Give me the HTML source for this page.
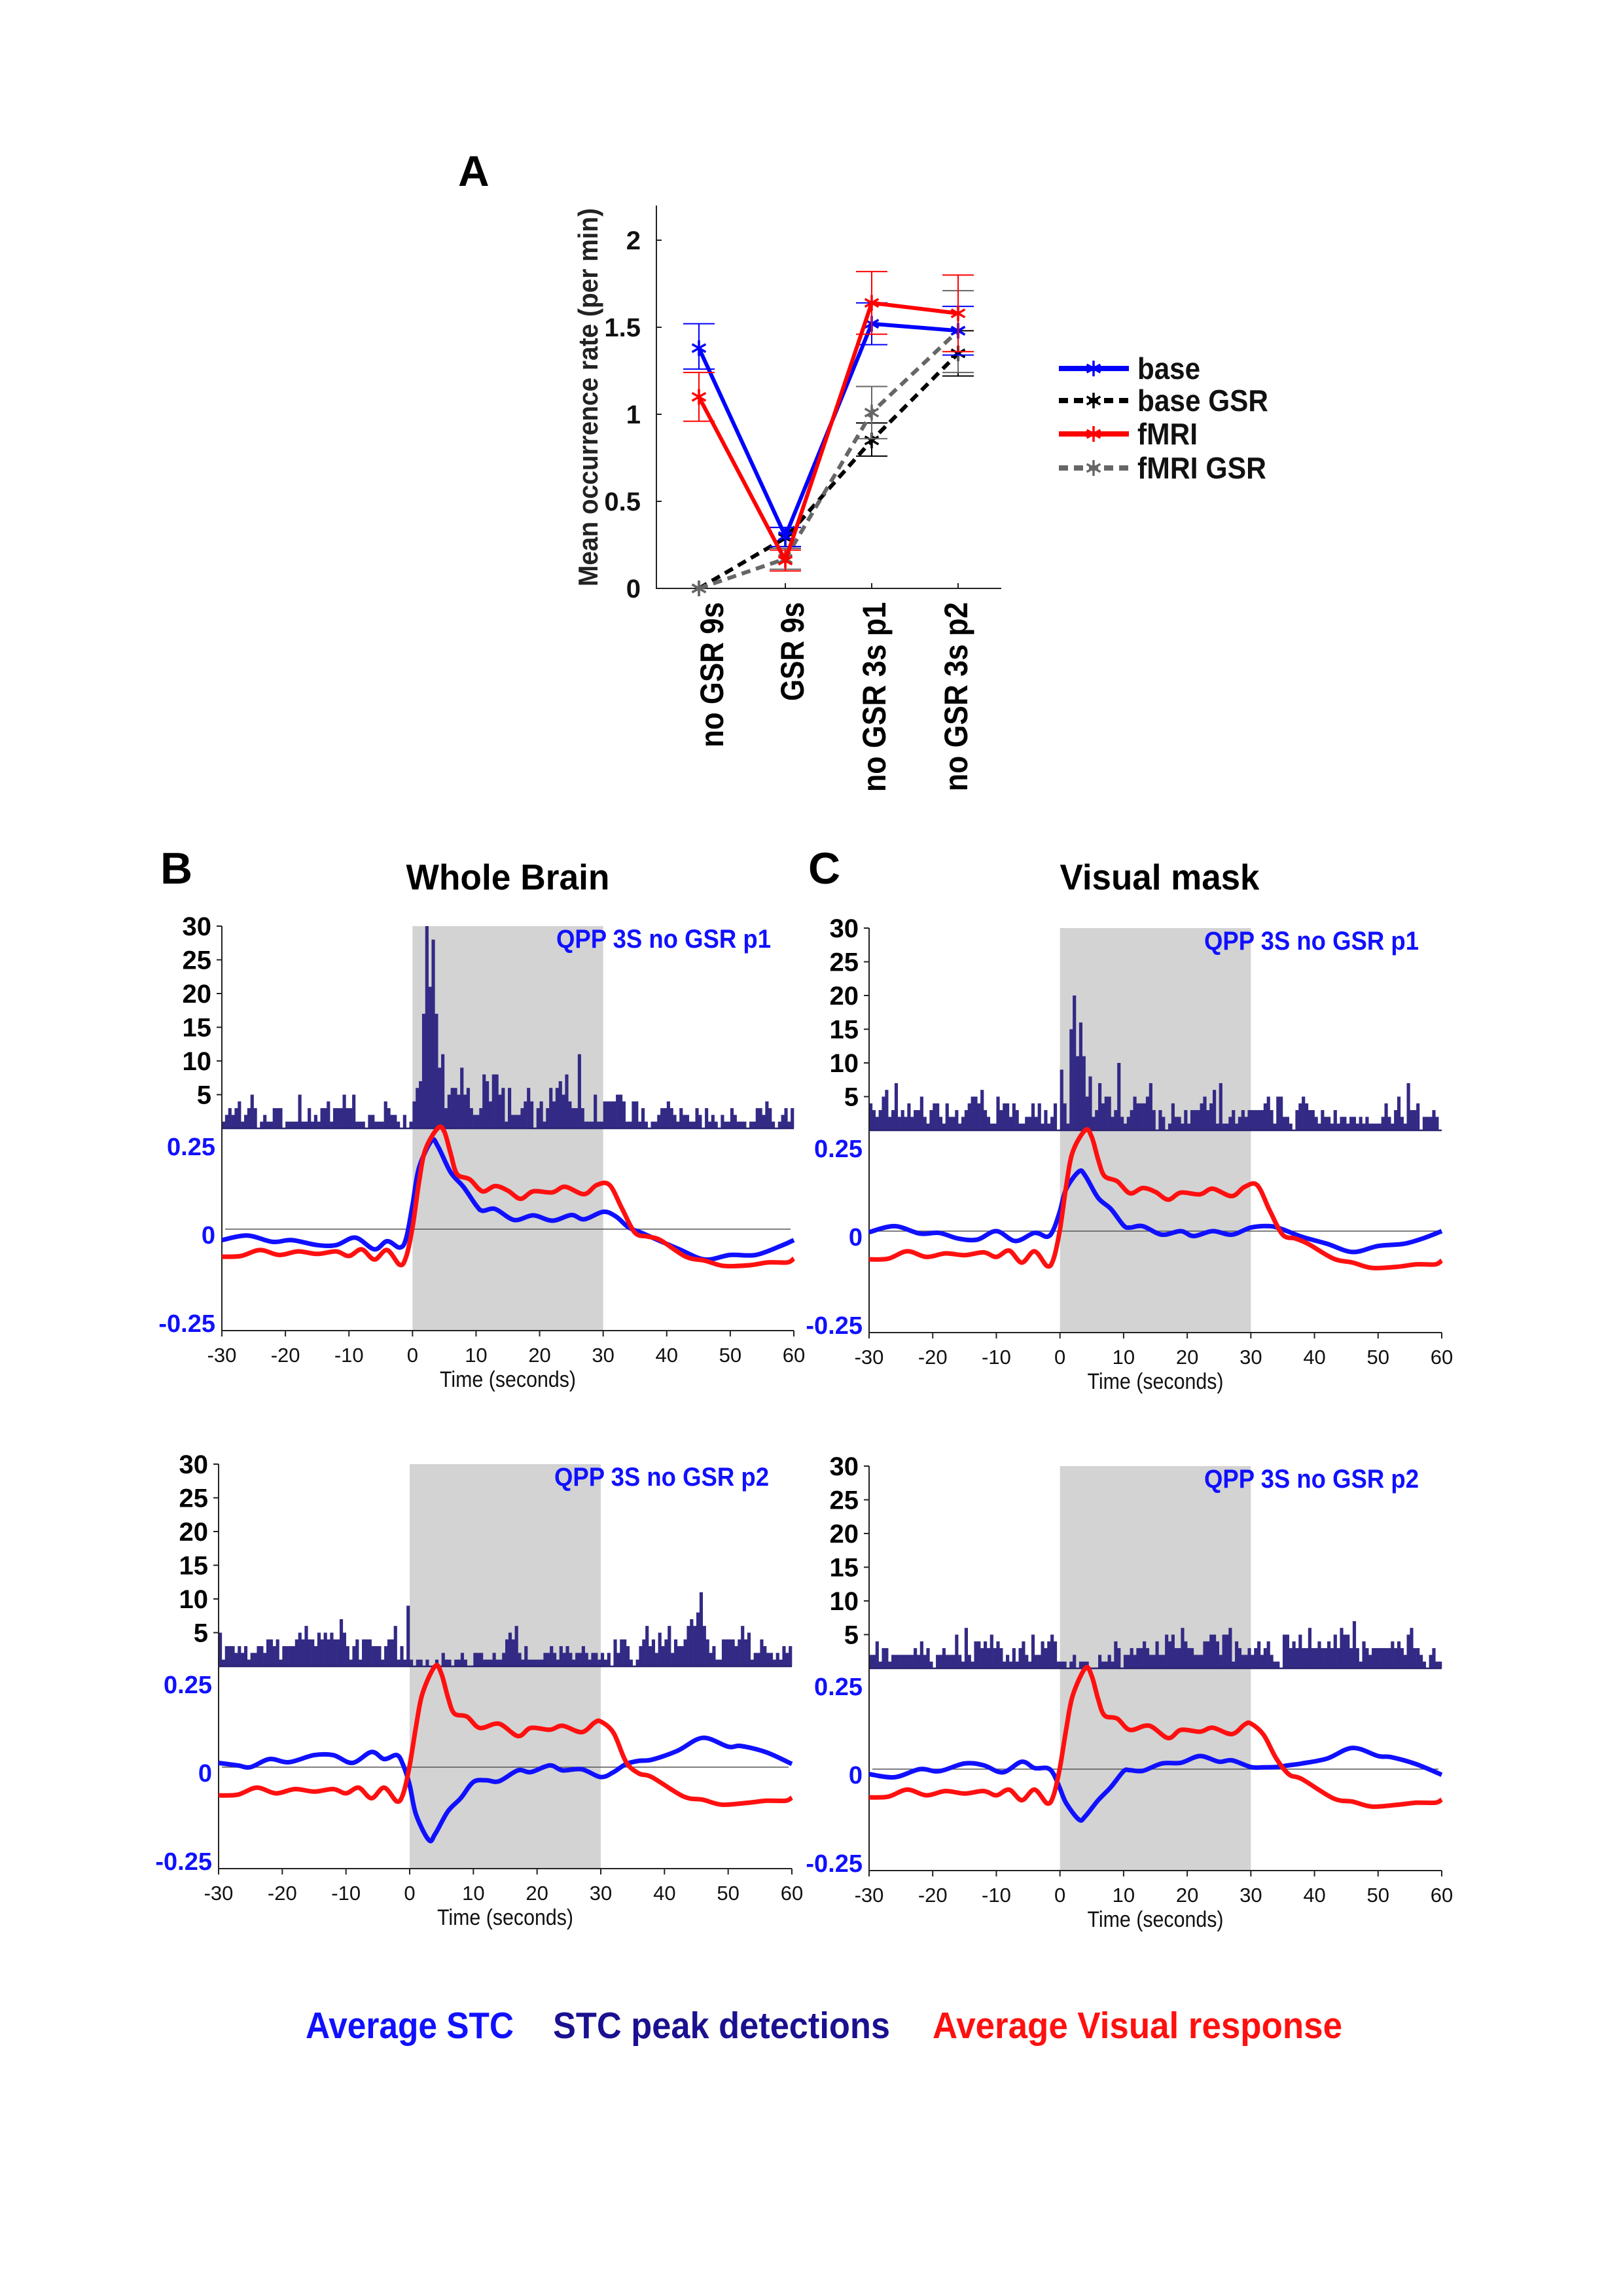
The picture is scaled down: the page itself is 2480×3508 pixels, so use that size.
<!DOCTYPE html>
<html><head><meta charset="utf-8"><title>QPP figure</title>
<style>
html,body{margin:0;padding:0;background:#fff;}
svg{display:block;}
text{font-family:"Liberation Sans Narrow","Liberation Sans",sans-serif;}
</style></head>
<body>
<svg id="fig" xmlns="http://www.w3.org/2000/svg" width="2480" height="3508" viewBox="0 0 2480 3508">
<rect x="0" y="0" width="2480" height="3508" fill="#fff"/>
</svg>
<script>
// ---------- Panel A data ----------
const catLabels = ['no GSR 9s','GSR 9s','no GSR 3s p1','no GSR 3s p2'];
const yTicksA = [0,0.5,1,1.5,2];
const yTickLabelsA = ['0','0.5','1','1.5','2'];
const baseMean = [1.38,0.30,1.52,1.48];
const baseLo = [1.26,0.24,1.40,1.34];
const baseHi = [1.52,0.35,1.64,1.62];
const fmriMean = [1.10,0.16,1.64,1.58];
const fmriLo = [0.96,0.10,1.46,1.36];
const fmriHi = [1.24,0.22,1.82,1.80];
const baseGsrMean = [0,0.29,0.85,1.35];
const baseGsrLo = [0,0.24,0.76,1.22];
const baseGsrHi = [0,0.35,0.95,1.48];
const fmriGsrMean = [0,0.17,1.01,1.48];
const fmriGsrLo = [0,0.11,0.86,1.24];
const fmriGsrHi = [0,0.23,1.16,1.71];
const legendLabels = ['base','base GSR','fMRI','fMRI GSR'];

// ---------- Panels B/C data ----------
const xTicksBC = [-30,-20,-10,0,10,20,30,40,50,60];
const histTicks = [5,10,15,20,25,30];
const lineTicks = [0.25,0,-0.25];
const lineTickLabels = ['0.25','0','-0.25'];

const histB1 = [1,2,3,2,3,4,1,2,3,5,3,0,1,2,1,1,3,3,3,0,1,1,1,1,5,1,1,3,1,2,1,3,3,4,1,3,3,3,5,3,3,5,1,1,1,0,2,2,1,1,1,4,3,2,2,1,0,2,0,1,
4,6,7,17,30,21,28,17,9,11,3,5,6,6,5,9,5,6,3,2,2,3,8,7,4,8,8,5,6,1,6,2,2,2,3,4,6,4,0,3,4,1,3,6,4,6,7,5,8,4,3,3,11,3,1,1,1,5,1,1,
4,4,4,4,5,5,4,1,1,4,4,1,3,1,0,1,1,2,3,3,4,3,2,1,3,2,2,1,1,3,2,0,3,1,2,1,0,2,1,1,3,2,1,1,1,0,1,1,3,3,2,4,3,1,0,1,2,3,1,3];
const histC1 = [4,3,2,3,5,6,2,3,7,2,3,2,4,2,3,3,5,2,1,3,4,4,2,1,4,2,2,3,1,2,3,4,5,5,4,6,3,2,1,1,5,3,4,4,2,4,3,1,1,2,2,4,2,4,1,3,1,2,4,0,
9,4,1,15,20,11,16,11,5,8,2,3,7,4,5,5,2,3,10,2,1,2,3,5,4,4,4,5,7,3,0,3,2,0,1,4,2,2,1,3,1,3,3,3,4,5,3,4,6,1,7,1,1,2,3,1,2,3,2,3,
3,3,3,3,4,5,3,1,5,5,2,2,1,0,3,4,5,4,3,3,2,1,3,2,2,1,3,1,2,2,1,2,2,1,2,1,2,1,1,1,1,2,4,2,1,3,5,2,1,7,3,3,4,0,2,2,2,3,2,0];
const histB2 = [5,1,3,3,3,2,3,2,3,1,2,2,3,3,2,4,4,3,4,1,3,3,3,3,4,5,4,6,4,4,3,5,4,5,4,5,4,4,7,5,3,1,3,4,1,4,4,4,3,3,3,1,3,4,4,6,1,3,1,9,
1,0,1,1,0,1,0,0,1,0,2,1,1,0,1,1,2,1,0,0,2,2,2,1,1,1,2,1,1,2,4,5,4,6,2,1,3,1,1,1,1,1,2,2,3,2,1,3,2,3,2,1,2,2,3,2,1,2,2,1,
2,1,2,0,4,2,4,4,3,1,0,1,3,4,6,3,4,2,5,3,4,6,2,4,3,3,4,6,7,6,8,11,6,4,2,3,1,1,4,4,4,4,3,4,6,4,5,1,2,2,4,3,2,2,1,2,1,3,2,3];
const histC2 = [2,2,4,1,3,3,1,2,2,2,2,2,2,2,3,2,4,2,3,1,0,2,2,3,2,2,2,5,2,1,6,2,1,4,4,3,4,3,5,3,4,3,1,2,1,3,1,3,4,2,1,5,2,2,4,3,4,5,4,1,
1,1,0,1,2,0,1,1,1,0,0,0,2,1,1,2,1,4,3,0,2,2,3,2,3,3,4,3,2,2,4,2,2,5,4,5,3,3,6,4,3,3,2,2,2,4,4,5,5,4,2,5,5,6,1,4,3,2,2,3,
2,3,4,2,3,4,2,1,1,0,5,5,3,4,3,5,3,3,6,3,3,4,3,3,4,3,5,3,6,5,5,3,7,3,1,4,3,2,3,3,3,3,3,3,4,3,4,3,2,5,6,3,3,2,1,0,2,3,1,1];

const b1BlueT = [-30,-26,-22,-19,-15,-12,-9,-6,-4,-2,-1,0,1,3,4,6,8,10,11,13,16,19,22,25,27,30,32,34,36,38,42,46,50,54,58,60];
const b1BlueV = [-0.031,-0.018,-0.036,-0.031,-0.045,-0.045,-0.024,-0.057,-0.034,-0.052,-0.026,0.068,0.172,0.25,0.234,0.161,0.120,0.068,0.052,0.057,0.026,0.039,0.024,0.04,0.028,0.049,0.036,0.005,-0.01,-0.026,-0.057,-0.086,-0.073,-0.073,-0.047,-0.031];
const b1RedT = [-30,-27,-24,-21,-18,-15,-12,-10,-8,-6,-4,-2,-1,0,1,2,4,5,6,7,9,11,13,15,17,19,22,24,27,29,31,33,35,37,39,43,46,49,53,56,59,60];
const b1RedV = [-0.078,-0.076,-0.059,-0.073,-0.063,-0.07,-0.063,-0.076,-0.057,-0.086,-0.059,-0.101,-0.078,0.005,0.13,0.224,0.286,0.276,0.214,0.156,0.141,0.107,0.122,0.109,0.086,0.107,0.104,0.12,0.099,0.125,0.125,0.057,-0.01,-0.021,-0.031,-0.078,-0.089,-0.104,-0.102,-0.094,-0.094,-0.083];

const c1BlueT = [-30,-26,-22,-19,-16,-13,-10,-7,-4,-2,-1,0,1,3,4,6,8,10,11,13,16,19,21,24,27,30,33,35,38,42,46,50,54,57,60];
const c1BlueV = [-0.003,0.014,-0.007,-0.005,-0.021,-0.024,0,-0.028,-0.005,-0.016,0.005,0.057,0.12,0.169,0.156,0.094,0.063,0.016,0.01,0.014,-0.01,0,-0.014,0,-0.01,0.01,0.014,0.005,-0.016,-0.036,-0.059,-0.042,-0.036,-0.021,0];
const c1RedT = [-30,-27,-24,-21,-18,-15,-12,-10,-8,-6,-4,-2,-1,0,1,2,4,5,6,7,9,11,13,15,17,19,22,24,27,29,31,33,35,37,39,43,46,49,53,56,59,60];
const c1RedV = [-0.08,-0.078,-0.057,-0.073,-0.063,-0.068,-0.06,-0.073,-0.055,-0.089,-0.057,-0.099,-0.078,0.005,0.13,0.224,0.286,0.266,0.203,0.156,0.141,0.107,0.122,0.111,0.089,0.109,0.104,0.12,0.099,0.125,0.13,0.057,-0.01,-0.021,-0.036,-0.078,-0.089,-0.104,-0.101,-0.094,-0.094,-0.083];

const b2BlueT = [-30,-27,-25,-22,-19,-15,-12,-9,-6,-4,-2,-1,0,1,3,4,6,8,10,12,14,17,19,22,24,27,30,32,34,36,38,42,46,50,52,56,60];
const b2BlueV = [0.012,0.005,0,0.023,0.014,0.034,0.034,0.012,0.043,0.023,0.034,0.005,-0.051,-0.134,-0.206,-0.189,-0.125,-0.088,-0.042,-0.037,-0.04,-0.009,-0.014,0.005,-0.009,-0.006,-0.028,-0.014,0.009,0.018,0.021,0.046,0.083,0.058,0.06,0.042,0.009];
const b2RedT = [-30,-27,-24,-21,-18,-15,-12,-10,-8,-6,-4,-2,-1,0,1,2,4,5,6,7,9,11,14,17,19,22,24,27,29,30,32,34,36,38,43,46,49,53,56,59,60];
const b2RedV = [-0.08,-0.078,-0.058,-0.074,-0.062,-0.069,-0.062,-0.074,-0.058,-0.088,-0.058,-0.097,-0.074,0.005,0.115,0.208,0.286,0.263,0.198,0.152,0.143,0.111,0.123,0.088,0.111,0.106,0.117,0.099,0.126,0.129,0.097,0.014,-0.018,-0.028,-0.083,-0.092,-0.106,-0.101,-0.095,-0.095,-0.086];

const c2BlueT = [-30,-26,-22,-19,-15,-12,-9,-6,-4,-2,-1,0,1,3,4,6,8,10,11,13,16,19,22,25,27,30,32,34,36,38,42,46,50,52,56,60];
const c2BlueV = [-0.014,-0.023,0,-0.006,0.016,0.011,-0.009,0.021,0.003,0.003,-0.014,-0.055,-0.097,-0.143,-0.133,-0.088,-0.051,-0.006,-0.003,-0.005,0.016,0.018,0.037,0.021,0.025,0.006,0.005,0.006,0.011,0.016,0.03,0.06,0.037,0.034,0.014,-0.016];
const c2RedT = [-30,-27,-24,-21,-18,-15,-12,-10,-8,-6,-4,-2,-1,0,1,2,4,5,6,7,9,11,14,17,19,22,24,27,29,30,32,34,36,38,43,46,49,53,56,59,60];
const c2RedV = [-0.08,-0.078,-0.058,-0.074,-0.062,-0.069,-0.062,-0.074,-0.058,-0.088,-0.058,-0.097,-0.074,0.005,0.115,0.208,0.286,0.263,0.198,0.152,0.143,0.111,0.123,0.088,0.111,0.106,0.117,0.099,0.126,0.129,0.097,0.03,-0.015,-0.028,-0.083,-0.092,-0.106,-0.101,-0.095,-0.095,-0.086];

// ---------- helpers ----------
const NS = 'http://www.w3.org/2000/svg';
const svg = document.getElementById('fig');
function mk(tag, attrs, parent) {
  const el = document.createElementNS(NS, tag);
  for (const k in attrs) el.setAttribute(k, attrs[k]);
  (parent || svg).appendChild(el);
  return el;
}
function txt(str, attrs, parent) {
  const el = mk('text', attrs, parent);
  el.textContent = str;
  return el;
}
function smoothPath(pts) {
  let d = 'M' + pts[0][0].toFixed(1) + ',' + pts[0][1].toFixed(1);
  for (let i = 0; i < pts.length - 1; i++) {
    const p0 = pts[Math.max(0, i - 1)], p1 = pts[i], p2 = pts[i + 1], p3 = pts[Math.min(pts.length - 1, i + 2)];
    const c1x = p1[0] + (p2[0] - p0[0]) / 6, c1y = p1[1] + (p2[1] - p0[1]) / 6;
    const c2x = p2[0] - (p3[0] - p1[0]) / 6, c2y = p2[1] - (p3[1] - p1[1]) / 6;
    d += ' C' + c1x.toFixed(1) + ',' + c1y.toFixed(1) + ' ' + c2x.toFixed(1) + ',' + c2y.toFixed(1) + ' ' + p2[0].toFixed(1) + ',' + p2[1].toFixed(1);
  }
  return d;
}
function star(cx, cy, r, color, parent, name) {
  const g = mk('g', {stroke: color, 'stroke-width': 3.5}, parent);
  
  
  for (let k = 0; k < 3; k++) {
    const a = Math.PI / 2 + k * Math.PI / 3;
    mk('line', {x1: cx - r * Math.cos(a), y1: cy - r * Math.sin(a), x2: cx + r * Math.cos(a), y2: cy + r * Math.sin(a)}, g);
  }
  return g;
}

// ---------- Panel A ----------
(function () {
  const AX0 = 1003, AX1 = 1530, AY0 = 899, ATOP = 314;
  const xA = i => 1068 + i * 132;
  const yA = v => AY0 - v * 266;
  const g = mk('g', {});
  
  
  const lab = txt('A', {x: 700, y: 284, 'font-size': 66, 'font-weight': 'bold', fill: '#000'}, g);
  
  
  const ax = mk('path', {d: `M${AX0},${ATOP} L${AX0},${AY0} L${AX1},${AY0}`, fill: 'none', stroke: '#222', 'stroke-width': 2}, g);
  
  
  yTicksA.forEach((v, i) => {
    const t = mk('line', {x1: AX0, x2: AX0 + 8, y1: yA(v), y2: yA(v), stroke: '#222', 'stroke-width': 2}, g);
    
    
    const l = txt(yTickLabelsA[i], {x: AX0 - 24, y: yA(v) + 14, 'text-anchor': 'end', 'font-size': 40, 'font-weight': 'bold', fill: '#111'}, g);
    
    
  });
  const catLen = [222, 151, 290, 289];
  catLabels.forEach((c, i) => {
    const t = mk('line', {x1: xA(i), x2: xA(i), y1: AY0, y2: AY0 - 8, stroke: '#222', 'stroke-width': 2}, g);
    
    
    const cx = [1087, 1210, 1335, 1460][i];
    const l = txt(c, {x: 0, y: 0, 'text-anchor': 'end', 'font-size': 50, 'font-weight': 'bold', fill: '#000',
      'font-family': '"Liberation Sans",sans-serif', textLength: catLen[i], lengthAdjust: 'spacingAndGlyphs',
      transform: `translate(${cx + 18},920) rotate(-90)`}, g);
    
    
  });
  const yl = txt('Mean occurrence rate (per min)', {x: 0, y: 0, 'text-anchor': 'middle', 'font-size': 42, 'font-weight': 'bold', fill: '#222',
    textLength: 578, lengthAdjust: 'spacingAndGlyphs', transform: 'translate(913,607) rotate(-90)'}, g);
  
  

  const series = [
    {name: 'base-gsr', mean: baseGsrMean, lo: baseGsrLo, hi: baseGsrHi, color: '#000', dash: '14,9', w: 6},
    {name: 'fmri-gsr', mean: fmriGsrMean, lo: fmriGsrLo, hi: fmriGsrHi, color: '#666', dash: '14,9', w: 6},
    {name: 'base', mean: baseMean, lo: baseLo, hi: baseHi, color: '#0000ff', dash: null, w: 6},
    {name: 'fmri', mean: fmriMean, lo: fmriLo, hi: fmriHi, color: '#ff0000', dash: null, w: 6}
  ];
  series.forEach(s => {
    const sg = mk('g', {}, g);
    
    
    s.mean.forEach((m, i) => {
      if (s.hi[i] - s.lo[i] <= 0) return;
      const e = mk('path', {d: `M${xA(i)},${yA(s.lo[i])} L${xA(i)},${yA(s.hi[i])} M${xA(i) - 24},${yA(s.lo[i])} L${xA(i) + 24},${yA(s.lo[i])} M${xA(i) - 24},${yA(s.hi[i])} L${xA(i) + 24},${yA(s.hi[i])}`,
        stroke: s.color, 'stroke-width': 2, fill: 'none'}, sg);
      
      
    });
    const pts = s.mean.map((m, i) => `${xA(i)},${yA(m)}`).join(' ');
    const pl = mk('polyline', {points: pts, fill: 'none', stroke: s.color, 'stroke-width': s.w}, sg);
    if (s.dash) pl.setAttribute('stroke-dasharray', s.dash);
    
    
    s.mean.forEach((m, i) => star(xA(i), yA(m), 12, s.color, sg, 'marker-' + s.name));
  });

  // legend
  const leg = mk('g', {}, g);
  
  
  const rows = [563, 612, 663, 715];
  const styles = [{c: '#0000ff', d: null}, {c: '#000', d: '14,9'}, {c: '#ff0000', d: null}, {c: '#666', d: '14,9'}];
  const widths = [96, 200, 92, 197];
  legendLabels.forEach((lbl, i) => {
    const eg = mk('g', {}, leg);
    
    
    const ln = mk('line', {x1: 1618, x2: 1725, y1: rows[i], y2: rows[i], stroke: styles[i].c, 'stroke-width': 8}, eg);
    if (styles[i].d) ln.setAttribute('stroke-dasharray', styles[i].d);
    
    
    star(1671, rows[i], 12, styles[i].c, eg, 'legend-marker');
    const t = txt(lbl, {x: 1738, y: rows[i] + 16, 'font-size': 46, 'font-weight': 'bold', fill: '#111', textLength: widths[i], lengthAdjust: 'spacingAndGlyphs'}, eg);
    
    
  });
})();

// ---------- Panels B / C ----------
function drawPanel(cfg) {
  const {x0, x1, T, hist, bT, bV, rT, rV, qpp, name} = cfg;
  const xs = t => x0 + (t + 30) / 90 * (x1 - x0);
  const hy = c => T + 309 - c * 10.3;
  const ly = v => T + 463 - v * 540;
  const B = T + 618;
  const g = mk('g', {});
  
  
  const sh = mk('rect', {x: xs(0), y: T, width: xs(30) - xs(0), height: B - T, fill: '#d3d3d3'}, g);
  
  
  const bw = 90 / hist.length;
  const hg = mk('g', {fill: '#332a85'}, g);
  
  
  hist.forEach((c, i) => {
    if (c <= 0) return;
    const xa = xs(-30 + i * bw), xb = xs(-30 + (i + 1) * bw);
    const r = mk('rect', {x: xa, y: hy(c), width: xb - xa + 0.3, height: hy(0) - hy(c)}, hg);
    
    
  });
  const bl = mk('line', {x1: x0, x2: x1, y1: hy(0), y2: hy(0), stroke: '#2a2370', 'stroke-width': 2.5}, g);
  
  
  const zl = mk('line', {x1: x0 + 5, x2: x1 - 5, y1: ly(0), y2: ly(0), stroke: '#555', 'stroke-width': 1.6}, g);
  
  
  const ax = mk('path', {d: `M${x0},${T} L${x0},${B} L${x1},${B}`, fill: 'none', stroke: '#222', 'stroke-width': 2}, g);
  
  
  histTicks.forEach(v => {
    const t = mk('line', {x1: x0 - 8, x2: x0, y1: hy(v), y2: hy(v), stroke: '#222', 'stroke-width': 2}, g);
    
    
    const l = txt(String(v), {x: x0 - 16, y: hy(v) + 14, 'text-anchor': 'end', 'font-size': 40, 'font-weight': 'bold', fill: '#000',
      'font-family': '"Liberation Sans",sans-serif'}, g);
    
    
  });
  lineTicks.forEach((v, i) => {
    const l = txt(lineTickLabels[i], {x: x0 - 10, y: ly(v) + 22, 'text-anchor': 'end', 'font-size': 38, 'font-weight': 'bold', fill: '#1010ff',
      'font-family': '"Liberation Sans",sans-serif'}, g);
    
    
  });
  xTicksBC.forEach(v => {
    const t = mk('line', {x1: xs(v), x2: xs(v), y1: B, y2: B + 9, stroke: '#222', 'stroke-width': 2}, g);
    
    
    const l = txt(String(v), {x: xs(v), y: B + 48, 'text-anchor': 'middle', 'font-size': 31, fill: '#111'}, g);
    
    
  });
  const xl = txt('Time (seconds)', {x: (x0 + x1) / 2, y: B + 86, 'text-anchor': 'middle', 'font-size': 34, fill: '#111', textLength: 208, lengthAdjust: 'spacingAndGlyphs'}, g);
  
  
  const q = txt(qpp, {x: x1 - 35, y: T + 33, 'text-anchor': 'end', 'font-size': 40, 'font-weight': 'bold', fill: '#1010ff', textLength: 328, lengthAdjust: 'spacingAndGlyphs',
    'font-family': '"Liberation Sans",sans-serif'}, g);
  
  
  const bp = mk('path', {d: smoothPath(bT.map((t, i) => [xs(t), ly(bV[i])])), fill: 'none', stroke: '#1010ff', 'stroke-width': 7, 'stroke-linejoin': 'round'}, g);
  
  
  const rp = mk('path', {d: smoothPath(rT.map((t, i) => [xs(t), ly(rV[i])])), fill: 'none', stroke: '#ff1010', 'stroke-width': 7, 'stroke-linejoin': 'round'}, g);
  
  
}

drawPanel({x0: 339, x1: 1213, T: 1415, hist: histB1, bT: b1BlueT, bV: b1BlueV, rT: b1RedT, rV: b1RedV, qpp: 'QPP 3S no GSR p1', name: 'panel-b-p1'});
drawPanel({x0: 1328, x1: 2203, T: 1418, hist: histC1, bT: c1BlueT, bV: c1BlueV, rT: c1RedT, rV: c1RedV, qpp: 'QPP 3S no GSR p1', name: 'panel-c-p1'});
drawPanel({x0: 334, x1: 1210, T: 2237, hist: histB2, bT: b2BlueT, bV: b2BlueV, rT: b2RedT, rV: b2RedV, qpp: 'QPP 3S no GSR p2', name: 'panel-b-p2'});
drawPanel({x0: 1328, x1: 2203, T: 2240, hist: histC2, bT: c2BlueT, bV: c2BlueV, rT: c2RedT, rV: c2RedV, qpp: 'QPP 3S no GSR p2', name: 'panel-c-p2'});

// titles & panel letters
[['B', 245, 1350, 'panel-b-label'], ['C', 1235, 1350, 'panel-c-label']].forEach(a => {
  const t = txt(a[0], {x: a[1], y: a[2], 'font-size': 68, 'font-weight': 'bold', fill: '#000', 'font-family': '"Liberation Sans",sans-serif'});
  
  
});
[['Whole Brain', 776, 311, 'panel-b-title'], ['Visual mask', 1772, 305, 'panel-c-title']].forEach(a => {
  const t = txt(a[0], {x: a[1], y: 1359, 'text-anchor': 'middle', 'font-size': 55, 'font-weight': 'bold', fill: '#000', textLength: a[2], lengthAdjust: 'spacingAndGlyphs',
    'font-family': '"Liberation Sans",sans-serif'});
  
  
});
// bottom legend
[['Average STC', 467, 318, '#1010ff', 'legend-average-stc'],
 ['STC peak detections', 845, 515, '#1a1090', 'legend-stc-peak-detections'],
 ['Average Visual response', 1425, 626, '#ff1010', 'legend-average-visual-response']].forEach(a => {
  const t = txt(a[0], {x: a[1], y: 3114, 'font-size': 57, 'font-weight': 'bold', fill: a[3], textLength: a[2], lengthAdjust: 'spacingAndGlyphs',
    'font-family': '"Liberation Sans",sans-serif'});
  
  
});
</script>
</body></html>
